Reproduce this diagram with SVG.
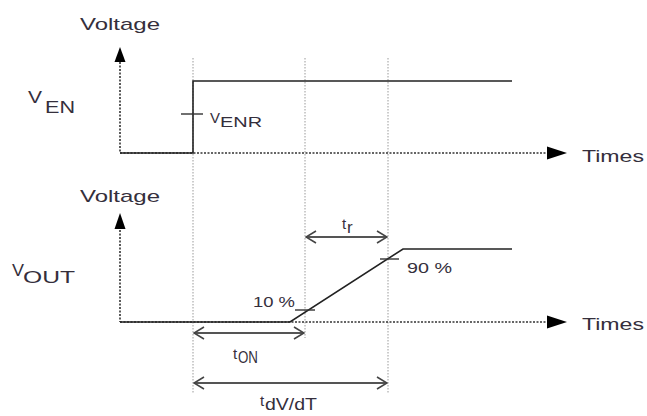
<svg xmlns="http://www.w3.org/2000/svg" width="647" height="416" viewBox="0 0 647 416">
<defs>
<style>
.t{font-family:"Liberation Sans",Arial,sans-serif;fill:#352f3c;font-size:17px}
.s{font-size:15px}
.guide{stroke:#9a9a9a;stroke-width:1;stroke-dasharray:1.5,1.5;fill:none}
.axis{stroke:#333;stroke-width:1.6;stroke-dasharray:2,1.5;fill:none}
.sig{stroke:#222;stroke-width:1.6;fill:none}
.tick{stroke:#333;stroke-width:1.4;fill:none}
.dim{stroke:#555;stroke-width:2;fill:none;marker-start:url(#open);marker-end:url(#open)}
.head{fill:#000}
</style>
<marker id="open" viewBox="0 0 12 14" refX="11" refY="7" markerWidth="12" markerHeight="14" markerUnits="userSpaceOnUse" orient="auto-start-reverse">
<polyline points="1,1 11,7 1,13" fill="none" stroke="#444" stroke-width="1.6"/>
</marker>
</defs>
<rect width="647" height="416" fill="#fff"/>
<g id="guides">
<line class="guide" x1="193" y1="58" x2="193" y2="394"/>
<line class="guide" x1="305" y1="58" x2="305" y2="338"/>
<line class="guide" x1="388" y1="58" x2="388" y2="394"/>
</g>
<g id="axes-top">
<line class="axis" x1="120" y1="62" x2="120" y2="153"/>
<polygon class="head" points="120,47 114.5,62 125.5,62"/>
<line class="axis" x1="120" y1="153" x2="548" y2="153"/>
<polygon class="head" points="567,153 547,146.5 547,159.5"/>
<text class="t" x="80" y="30" textLength="80" lengthAdjust="spacingAndGlyphs">Voltage</text>
<text class="t" x="582" y="162" textLength="62" lengthAdjust="spacingAndGlyphs">Times</text>
</g>
<g id="axes-bottom">
<line class="axis" x1="120" y1="230" x2="120" y2="322"/>
<polygon class="head" points="120,213 114.5,229 125.5,229"/>
<line class="axis" x1="120" y1="322" x2="548" y2="322"/>
<polygon class="head" points="567,322 547,315.5 547,328.5"/>
<text class="t" x="80" y="202" textLength="80" lengthAdjust="spacingAndGlyphs">Voltage</text>
<text class="t" x="582" y="330" textLength="62" lengthAdjust="spacingAndGlyphs">Times</text>
</g>
<g id="ven">
<text class="t" x="28" y="103" font-size="18" textLength="14" lengthAdjust="spacingAndGlyphs">V</text>
<text class="t" x="45" y="113" font-size="18" textLength="30" lengthAdjust="spacingAndGlyphs">EN</text>
<polyline class="sig" points="120,153 193,153 193,81 512,81"/>
<line class="tick" x1="181" y1="114" x2="203" y2="114"/>
<text class="t s" x="210" y="123" textLength="10" lengthAdjust="spacingAndGlyphs">V</text>
<text class="t s" x="220" y="127" textLength="42" lengthAdjust="spacingAndGlyphs">ENR</text>
</g>
<g id="vout">
<text class="t" x="12" y="276" font-size="18" textLength="12" lengthAdjust="spacingAndGlyphs">V</text>
<text class="t" x="23" y="283" font-size="18" textLength="52" lengthAdjust="spacingAndGlyphs">OUT</text>
<polyline class="sig" points="120,322 290,322 403,249 512,249"/>
<line class="tick" x1="295" y1="310" x2="315" y2="310"/>
<line class="tick" x1="380" y1="259" x2="399" y2="259"/>
<text class="t s" x="253" y="307" textLength="42" lengthAdjust="spacingAndGlyphs">10 %</text>
<text class="t s" x="407" y="273" textLength="45" lengthAdjust="spacingAndGlyphs">90 %</text>
</g>
<g id="connectors">
<line class="dim" x1="306" y1="237" x2="387" y2="237"/>
<line class="dim" x1="194" y1="333" x2="304" y2="333"/>
<line class="dim" x1="194" y1="383" x2="387" y2="383"/>
</g>
<g id="labels">
<text class="t s" x="342" y="229">t</text>
<text class="t" x="347" y="233" font-size="11">r</text>
<text class="t s" x="233" y="359">t</text>
<text class="t" x="238" y="363" font-size="14" textLength="20" lengthAdjust="spacingAndGlyphs">ON</text>
<text class="t s" x="260" y="406">t</text>
<text class="t" x="265" y="410" font-size="14" textLength="52" lengthAdjust="spacingAndGlyphs">dV/dT</text>
</g>
</svg>
